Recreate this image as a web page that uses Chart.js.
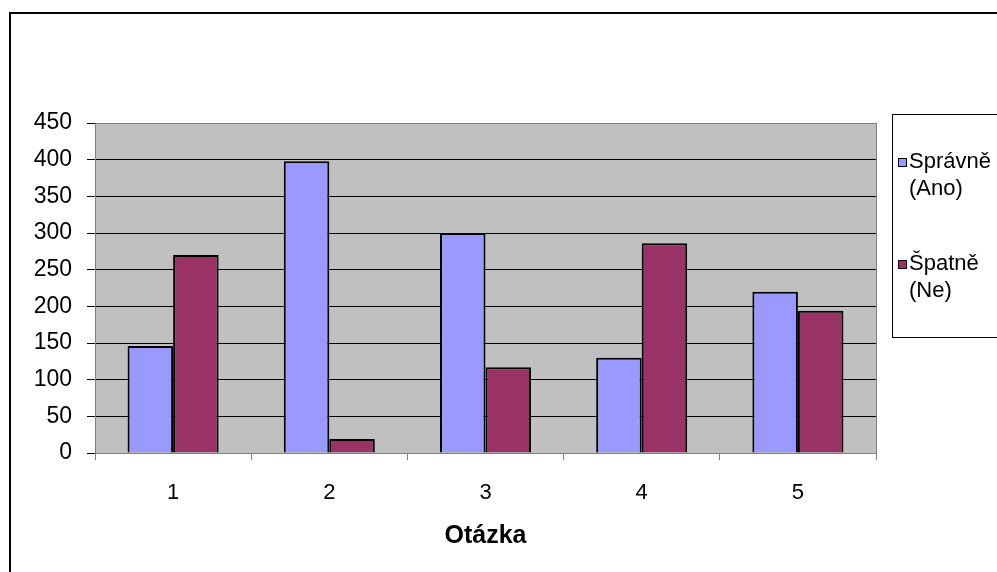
<!DOCTYPE html>
<html>
<head>
<meta charset="utf-8">
<script src="https://cdn.jsdelivr.net/npm/chart.js@4"></script>
<style>
  html, body { margin: 0; padding: 0; background: #fff; }
  #wrap { position: relative; width: 997px; height: 572px; }
</style>
</head>
<body>
<div id="wrap"><canvas id="chart"></canvas></div>
<script>
const categories = ["1", "2", "3", "4", "5"]
const spravne = [146, 398, 300, 130, 220]
const spatne = [270, 19, 117, 286, 194]
const seriesNames = ["Správně (Ano)", "Špatně (Ne)"]
const legendLines = [["Správně", "(Ano)"], ["Špatně", "(Ne)"]]
const yTicks = [0, 50, 100, 150, 200, 250, 300, 350, 400, 450]

const FONT = "'Liberation Sans', Arial, sans-serif"

// plot background, outer frame and the two-line legend
const excelLook = {
  id: "excelLook",
  beforeDraw(chart) {
    const { ctx, chartArea: a } = chart
    ctx.save()
    ctx.fillStyle = "#c0c0c0"
    ctx.fillRect(a.left, a.top, a.right - a.left, a.bottom - a.top)
    ctx.restore()
  },
  beforeDatasetsDraw(chart) {
    const { ctx, chartArea: a } = chart
    ctx.save()
    ctx.strokeStyle = "#808080"
    ctx.lineWidth = 1
    ctx.strokeRect(Math.round(a.left) + 0.5, Math.round(a.top) + 0.5, Math.round(a.right - a.left), Math.round(a.bottom - a.top))
    ctx.restore()
  },
  afterDraw(chart) {
    const { ctx } = chart
    ctx.save()
    ctx.strokeStyle = "#000"
    ctx.lineWidth = 2
    ctx.strokeRect(10, 13, 1100, 700)

    ctx.lineWidth = 1
    ctx.strokeRect(892.5, 114.5, 200, 223)

    ctx.font = "22px " + FONT
    ctx.textBaseline = "middle"
    ctx.textAlign = "left"
    const itemY = [162, 264]
    chart.data.datasets.forEach((ds, i) => {
      const y = itemY[i]
      ctx.fillStyle = ds.backgroundColor
      ctx.fillRect(899, y - 3, 7, 7)
      ctx.strokeStyle = "#000"
      ctx.strokeRect(898.5, y - 3.5, 8, 8)
      ctx.fillStyle = "#000"
      legendLines[i].forEach((line, j) => ctx.fillText(line, 909, y + j * 27))
    })
    ctx.restore()
  },
}

new Chart(document.getElementById("chart"), {
  type: "bar",
  data: {
    labels: categories,
    datasets: [
      { label: seriesNames[0], data: spravne, backgroundColor: "#9999ff", borderColor: "#000", borderWidth: 2 },
      { label: seriesNames[1], data: spatne, backgroundColor: "#993366", borderColor: "#000", borderWidth: 2 },
    ],
  },
  options: {
    responsive: true,
    maintainAspectRatio: false,
    animation: false,
    layout: { padding: { left: 0, right: 121, top: 123, bottom: 0 } },
    datasets: { bar: { categoryPercentage: 0.583, barPercentage: 1 } },
    plugins: { legend: { display: false }, tooltip: { enabled: false } },
    scales: {
      x: {
        afterFit: (scale) => { scale.height = 119 },
        grid: { offset: true, drawOnChartArea: false, color: "#808080", tickLength: 7 },
        border: { color: "#808080" },
        ticks: { color: "#000", padding: 20, font: { family: FONT, size: 22 } },
        title: { display: true, text: "Otázka", color: "#000", padding: { top: 0, bottom: 21 }, font: { family: FONT, size: 25, weight: "bold" } },
      },
      y: {
        min: 0,
        max: 450,
        afterFit: (scale) => { scale.width = 95 },
        afterBuildTicks: (scale) => { scale.ticks = yTicks.map((v) => ({ value: v })) },
        grid: { color: "#000", tickColor: "#000", tickLength: 8 },
        border: { color: "#808080" },
        ticks: { color: "#000", padding: 15, font: { family: FONT, size: 23 } },
      },
    },
  },
  plugins: [excelLook],
})
</script>
</body>
</html>
